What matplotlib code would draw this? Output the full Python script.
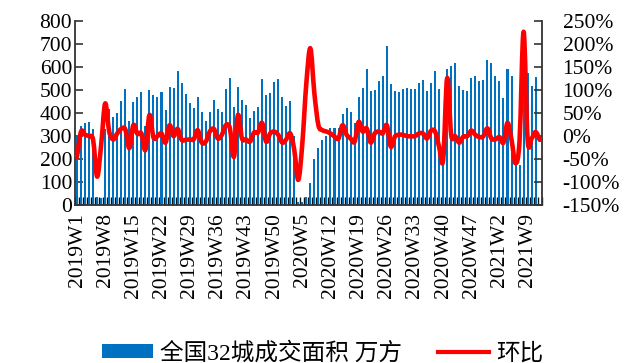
import numpy as np
import matplotlib
matplotlib.use("Agg")
import matplotlib.pyplot as plt
from matplotlib.path import Path
from matplotlib.patches import PathPatch, Patch
from matplotlib.lines import Line2D
from matplotlib.font_manager import FontProperties

# Weekly categories: 2019W1 .. 2021W12
weeks = ([f"2019W{w}" for w in range(1, 53)]
         + [f"2020W{w}" for w in range(1, 53)]
         + [f"2021W{w}" for w in range(1, 13)])

# Transaction area of 32 cities (10k m2)
volume = [
    302, 342, 355, 358, 328, 33, 30, 330, 417, 380,
    397, 452, 502, 365, 448, 467, 490, 342, 499, 478,
    467, 489, 412, 510, 506, 581, 529, 480, 443, 419,
    470, 404, 365, 404, 455, 417, 404, 502, 551, 423,
    513, 455, 432, 377, 406, 426, 548, 477, 487, 532,
    547, 470, 429, 452, 300, 13, 10, 33, 96, 197,
    248, 281, 300, 333, 333, 333, 394, 419, 404, 354,
    470, 506, 589, 496, 499, 536, 560, 690, 523, 496,
    491, 502, 506, 502, 502, 528, 542, 496, 531, 583,
    502, 260, 590, 604, 615, 517, 499, 493, 549, 560,
    536, 542, 628, 618, 560, 536, 465, 590, 560, 185,
    174, 565, 571, 516, 556, np.nan,
]

# Week-on-week change (%)
mom = [
    -46, 9, 2, -1, -9, -89, -20, 70, 9, -8,
    5, 15, 14, -27, 23, 4, 5, -31, 45, -4,
    -1, 5, -15, 23, -1, 15, -9, -9, -8, -8,
    12, -15, -13, 9, 15, -6, 2, 23, 16, -46,
    45, -6, -8, -13, 7, 7, 28, -13, 5, 9,
    2, -15, -8, 5, -31, -96, -17, 114, 190, 92,
    23, 12, 9, 5, -2, -6, 23, 2, -6, -13,
    30, 9, 16, -15, 5, 9, 5, 23, -24, -2,
    2, 2, -1, -1, -1, 5, 5, -6, 11, 9,
    -24, -53, 125, 2, -1, -15, -2, -1, 11, 2,
    -3, -1, 16, -6, -8, -3, -15, 28, -9, -60,
    -10, 226, -9, -6, 8, -9,
]

bar_label = "全国32城成交面积 万方"
line_label = "环比"

BLUE = "#0070C0"
RED = "#FF0000"
SERIF = ["Liberation Serif", "DejaVu Serif"]
MIXED = ["Liberation Serif", "Noto Sans CJK SC"]
FS = 15.5


def smooth_path(xs, ys):
    """Catmull-Rom curve through the points, as cubic Bezier segments."""
    pts = np.column_stack([xs, ys]).astype(float)
    verts = [pts[0]]
    codes = [Path.MOVETO]
    n = len(pts)
    for i in range(n - 1):
        p0 = pts[i - 1] if i > 0 else pts[i]
        p1 = pts[i]
        p2 = pts[i + 1]
        p3 = pts[i + 2] if i + 2 < n else pts[i + 1]
        verts += [p1 + (p2 - p0) / 6.0, p2 - (p3 - p1) / 6.0, p2]
        codes += [Path.CURVE4] * 3
    return Path(verts, codes)


fig = plt.figure(figsize=(6.24, 3.63), dpi=100)
W, H = 624, 363
left, right, top, bottom = 75, 541.7, 20.7, 204.7
ax = fig.add_axes([left / W, 1 - bottom / H, (right - left) / W, (bottom - top) / H])

n = len(weeks)
x = np.arange(n)
ax.bar(x, volume, width=0.5, color=BLUE, linewidth=0, zorder=2)
ax.set_xlim(-0.5, n - 0.5)
ax.set_ylim(0, 800)
ax.set_yticks(range(0, 801, 100))

spine_c = "#333333"
for s in ("top", "right"):
    ax.spines[s].set_visible(False)
for s in ("left", "bottom"):
    ax.spines[s].set_color(spine_c)
    ax.spines[s].set_linewidth(1.3)

# category boundary ticks, labels every 7 weeks at category centres
ax.set_xticks(np.arange(-0.5, n, 1.0))
ax.set_xticklabels([])
ax.set_xticks(x[::7], minor=True)
ax.set_xticklabels(weeks[::7], minor=True, rotation=90,
                   fontfamily=SERIF, fontsize=FS)
ax.tick_params(axis="x", which="major", direction="in", length=6,
               width=1.0, color="#111111")
ax.tick_params(axis="x", which="minor", length=0, pad=6)
ax.tick_params(axis="y", direction="in", length=6, width=1.2,
               color=spine_c, pad=2, labelsize=FS)
for t in ax.get_yticklabels():
    t.set_fontfamily(SERIF)

ax2 = ax.twinx()
ax2.set_ylim(-150, 250)
pct_ticks = list(range(-150, 251, 50))
ax2.set_yticks(pct_ticks)
ax2.set_yticklabels([f"{v}%" for v in pct_ticks], fontfamily=SERIF, fontsize=FS)
for s in ("top", "left", "bottom"):
    ax2.spines[s].set_visible(False)
ax2.spines["right"].set_color(spine_c)
ax2.spines["right"].set_linewidth(1.3)
ax2.tick_params(axis="y", direction="in", length=6, width=1.2,
                color=spine_c, pad=15)

ax2.add_patch(PathPatch(smooth_path(x, mom), fill=False, edgecolor=RED,
                        lw=3.3, capstyle="round", joinstyle="round", zorder=3))

handles = [Patch(facecolor=BLUE, edgecolor="none"),
           Line2D([], [], color=RED, lw=3.0)]
fig.legend(handles, [bar_label, line_label], loc="center",
           bbox_to_anchor=(0.517, 0.028), ncol=2, frameon=False,
           prop=FontProperties(family=MIXED, size=17),
           handlelength=2.16, handleheight=0.5, handletextpad=0.3,
           columnspacing=1.52, borderpad=0, borderaxespad=0)

fig.savefig("out.png", dpi=100)
